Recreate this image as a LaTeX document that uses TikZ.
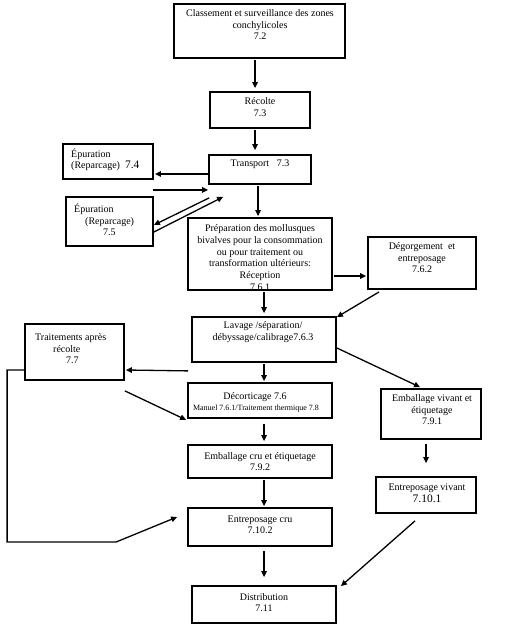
\documentclass[tikz,border=0pt]{standalone}
\usepackage{fontspec}
\setmainfont{Liberation Serif}
\usetikzlibrary{fit,calc,arrows.meta}
\begin{document}
\begin{tikzpicture}[x=1pt,y=-1pt,
  box/.style={draw,line width=1.8pt,inner sep=0pt},
  txt/.style={inner sep=0pt,align=center,font=\fontsize{10}{11.5}\selectfont},
  arr/.style={line width=1.3pt,-{Triangle[length=6pt,width=5.5pt]}},
  ln/.style={line width=1.3pt}]
\useasboundingbox (0,0) rectangle (509,639);
% texts
\node[txt] (clasT) at (260,25) {Classement et surveillance des zones\\conchylicoles\\7.2};
\node[txt] (recT) at (260,107) {Récolte\\7.3};
\node[txt] (traT) at (260,164) {Transport\ \ \ 7.3};
\node[txt,align=left,anchor=west] (ep4T) at (71,160) {Épuration\\(Reparcage)\ \ {\fontsize{11.5}{11.5}\selectfont 7.4}};
\node[txt,align=left,anchor=west] (ep5T) at (74,220) {Épuration\\\hspace*{11pt}(Reparcage)\\\hspace*{29pt}7.5};
\node[txt,font=\fontsize{10}{11.8}\selectfont] (prepT) at (260,257.5) {Préparation des mollusques\\bivalves pour la consommation\\ou pour traitement ou\\transformation ultérieurs:\\Réception\\7.6.1};
\node[txt] (degT) at (422,258) {Dégorgement\ \ et\\entreposage\\7.6.2};
\node[txt] (lavT) at (263,332) {Lavage /séparation/\\débyssage/calibrage7.6.3};
\node[txt,align=left,anchor=west] (trtT) at (35,349) {Traitements après\\\hspace*{18pt}récolte\\\hspace*{31pt}7.7};
\node[txt] (decT1) at (255,397) {Décorticage 7.6};
\node[txt,font=\fontsize{8}{9}\selectfont] (decT2) at (256,409) {Manuel 7.6.1/Traitement thermique 7.8};
\node[txt] (emvT) at (432,410) {Emballage vivant et\\étiquetage\\7.9.1};
\node[txt] (emcT) at (260,461.5) {Emballage cru et étiquetage\\7.9.2};
\node[txt] (envT) at (427,493.5) {Entreposage vivant\\{\fontsize{11.5}{11.5}\selectfont 7.10.1}};
\node[txt] (encT) at (260,525) {Entreposage cru\\7.10.2};
\node[txt] (disT) at (264,602.5) {Distribution\\7.11};
% boxes
\node[box,fit={(174,4) (345,58)}] (clas) {};
\node[box,fit={(210,92) (310,128)}] (rec) {};
\node[box,fit={(209,155) (311,184)}] (tra) {};
\node[box,fit={(63,144) (153,179)}] (ep4) {};
\node[box,fit={(66,197) (153,246)}] (ep5) {};
\node[box,fit={(188,218) (332,290)}] (prep) {};
\node[box,fit={(368,237) (476,289)}] (deg) {};
\node[box,fit={(192,317) (336,362)}] (lav) {};
\node[box,fit={(25,324) (124,380)}] (trt) {};
\node[box,fit={(188,383) (332,418)}] (dec) {};
\node[box,fit={(381,389) (481,439)}] (emv) {};
\node[box,fit={(188,445) (332,478)}] (emc) {};
\node[box,fit={(376,477) (476,513)}] (env) {};
\node[box,fit={(188,508) (332,546)}] (enc) {};
\node[box,fit={(192,586) (336,623)}] (dis) {};
% connectors
\draw[arr] ($(clas.south)+(-4.5,1)$) -- ($(rec.north)+(-5,-3)$);
\draw[arr] ($(rec.south)+(-5,1)$) -- ($(tra.north)+(-5,-4)$);
\draw[arr] ($(tra.west)+(0,4.5)$) -- ($(ep4.east)+(1,12.5)$);
\draw[arr] ($(ep4.south east)+(-1,10)$) -- ($(tra.south west)+(0,5)$);
\draw[arr] ($(tra.south west)+(1,13)$) -- ($(ep5.east)+(0,3.5)$);
\draw[arr] ($(ep5.east)+(0,10.5)$) -- ($(tra.south west)+(15,12)$);
\draw[arr] ($(tra.south)+(-2,1)$) -- ($(prep.north)+(-2,-1)$);
\draw[arr] ($(prep.east)+(1,22)$) -- ($(deg.west)+(-1,13)$);
\draw[arr] ($(deg.south west)+(12,2)$) -- ($(lav.north east)+(0,1)$);
\draw[arr] ($(prep.south)+(4,1)$) -- ($(lav.north)+(0,-3)$);
\draw[arr] ($(lav.south west)+(-3,8)$) -- ($(trt.east)+(1,18)$);
\draw[arr] ($(trt.south east)+(0,10)$) -- ($(dec.south west)+(-1,1)$);
\draw[arr] ($(lav.south)+(0,1)$) -- ($(dec.north)+(4,-1)$);
\draw[arr] ($(lav.east)+(0,8.5)$) -- ($(emv.north)+(-11,-1)$);
\draw[arr] ($(dec.south)+(4,5)$) -- ($(emc.north)+(4,-3)$);
\draw[arr] ($(emv.south)+(-5,4)$) -- ($(env.north)+(0,-13)$);
\draw[arr] ($(emc.south)+(4,1)$) -- ($(enc.north)+(4,-1)$);
\draw[arr] ($(enc.south)+(4,4)$) -- ($(dis.north)+(0,-8)$);
\draw[arr] ($(env.south)+(-11,7)$) -- ($(dis.north east)+(4,1)$);
\draw[arr] ($(trt.west)+(0,18)$) -- ++(-17,0) -- ++(0,172) -- ++(109,0) -- ($(enc.west)+(-10,-10)$);
\end{tikzpicture}
\end{document}
